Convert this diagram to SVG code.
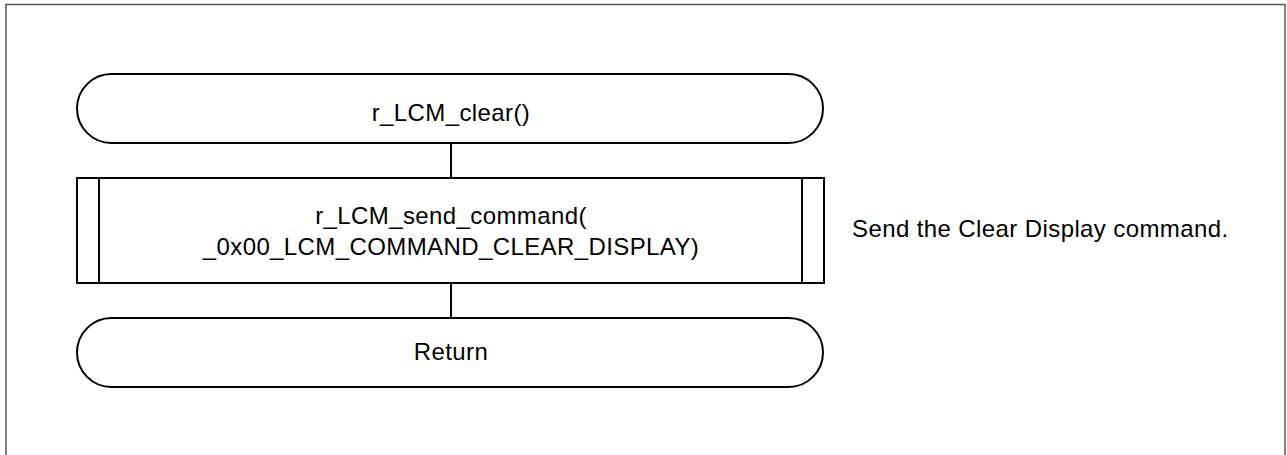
<svg xmlns="http://www.w3.org/2000/svg" width="1287" height="455" viewBox="0 0 1287 455">
<style>
.s{fill:#fff;stroke:#000;stroke-width:2}
.l{stroke:#000;stroke-width:2;fill:none}
.t{font-family:"Liberation Sans",Arial,sans-serif;font-size:24px;letter-spacing:0.4px;fill:#000}
.c{text-anchor:middle}
</style>
<rect x="0" y="0" width="1287" height="455" fill="#fff"/>
<rect x="6" y="4.5" width="1279" height="470" fill="none" stroke="#555" stroke-width="1.5"/>
<g id="connectors">
<line class="l" x1="451" y1="143" x2="451" y2="178"/>
<line class="l" x1="451" y1="283" x2="451" y2="318"/>
</g>
<g id="start">
<rect class="s" x="77" y="74" width="746" height="69" rx="34.5" ry="34.5"/>
<text class="t c" x="451" y="121">r_LCM_clear()</text>
</g>
<g id="process">
<rect class="s" x="77" y="178" width="747" height="105"/>
<line class="l" x1="99" y1="178" x2="99" y2="283"/>
<line class="l" x1="802" y1="178" x2="802" y2="283"/>
<text class="t c" x="451" y="224">r_LCM_send_command(</text>
<text class="t c" x="451" y="255">_0x00_LCM_COMMAND_CLEAR_DISPLAY)</text>
</g>
<g id="end">
<rect class="s" x="77" y="318" width="746" height="69" rx="34.5" ry="34.5"/>
<text class="t c" x="451" y="360">Return</text>
</g>
<g id="note">
<text class="t" x="852" y="237">Send the Clear Display command.</text>
</g>
</svg>
